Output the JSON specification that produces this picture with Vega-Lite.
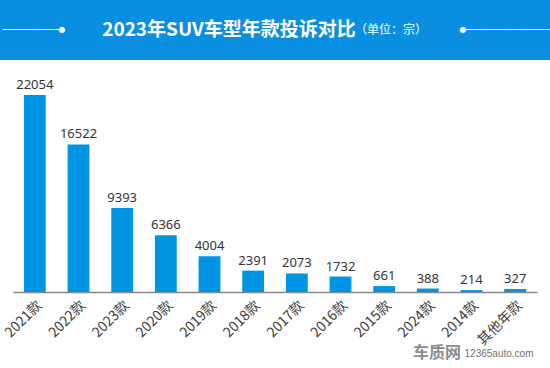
{
  "$schema": "https://vega.github.io/schema/vega-lite/v6.json",
  "padding": 0,
  "background": "white",
  "spacing": 35,
  "center": true,
  "bounds": "flush",
  "config": {"view": {"stroke": null}, "font": "Noto Sans CJK SC"},
  "vconcat": [
    {
      "width": 550,
      "height": 60,
      "view": {"fill": "#0A8FE0", "stroke": null},
      "data": {"values": [{"title": "2023年SUV车型年款投诉对比", "unit": "（单位：宗）"}]},
      "layer": [
        {"mark": {"type": "text", "color": "white", "fontSize": 19, "fontWeight": "bold", "dx": -46, "baseline": "middle"}, "encoding": {"text": {"field": "title"}}},
        {"mark": {"type": "text", "color": "white", "fontSize": 12, "dx": 116, "baseline": "middle"}, "encoding": {"text": {"field": "unit"}}},
        {"mark": {"type": "text", "color": "white", "fontSize": 11, "font": "DejaVu Sans", "align": "right", "dx": -213, "baseline": "middle", "text": "─────────"}, "encoding": {}},
        {"mark": {"type": "text", "color": "white", "fontSize": 11, "font": "DejaVu Sans", "align": "left", "dx": 188, "baseline": "middle", "text": "─────────────"}, "encoding": {}},
        {"mark": {"type": "text", "color": "white", "fontSize": 8, "font": "DejaVu Sans", "align": "center", "dx": -213, "baseline": "middle", "text": "●"}, "encoding": {}},
        {"mark": {"type": "text", "color": "white", "fontSize": 8, "font": "DejaVu Sans", "align": "center", "dx": 188, "baseline": "middle", "text": "●"}, "encoding": {}}
      ]
    },
    {
      "width": 524,
      "height": 197,
      "title": {"text": "车质网", "orient": "bottom", "anchor": "end", "fontSize": 16, "fontWeight": "bold", "color": "#8c8c8c", "dx": -76, "dy": -17, "offset": 4},
      "data": {"values": [
        {"year": "2021款", "count": 22054},
        {"year": "2022款", "count": 16522},
        {"year": "2023款", "count": 9393},
        {"year": "2020款", "count": 6366},
        {"year": "2019款", "count": 4004},
        {"year": "2018款", "count": 2391},
        {"year": "2017款", "count": 2073},
        {"year": "2016款", "count": 1732},
        {"year": "2015款", "count": 661},
        {"year": "2024款", "count": 388},
        {"year": "2014款", "count": 214},
        {"year": "其他年款", "count": 327}
      ]},
      "encoding": {
        "x": {
          "field": "year", "type": "nominal", "sort": null,
          "scale": {"paddingInner": 0.5, "paddingOuter": 0.25},
          "axis": {
            "title": "12365auto.com",
            "titleFontSize": 10, "titleColor": "#707070", "titleFontWeight": "normal", "titleFont": "Liberation Sans",
            "titleAlign": "right", "titleX": 520, "titleY": 61, "titleBaseline": "middle",
            "labelAngle": -45, "labelFontSize": 14, "labelColor": "#404040",
            "ticks": false, "domainColor": "#888888", "domainWidth": 1.5, "labelPadding": 6
          }
        },
        "y": {"field": "count", "type": "quantitative", "scale": {"domain": [0, 22054], "nice": false}, "axis": null}
      },
      "layer": [
        {"mark": {"type": "bar", "color": "#0094E5"}},
        {"mark": {"type": "text", "baseline": "bottom", "dy": -3, "fontSize": 13, "font": "Noto Sans", "color": "#333333"}, "encoding": {"text": {"field": "count", "type": "quantitative", "format": "d"}}}
      ]
    }
  ]
}
